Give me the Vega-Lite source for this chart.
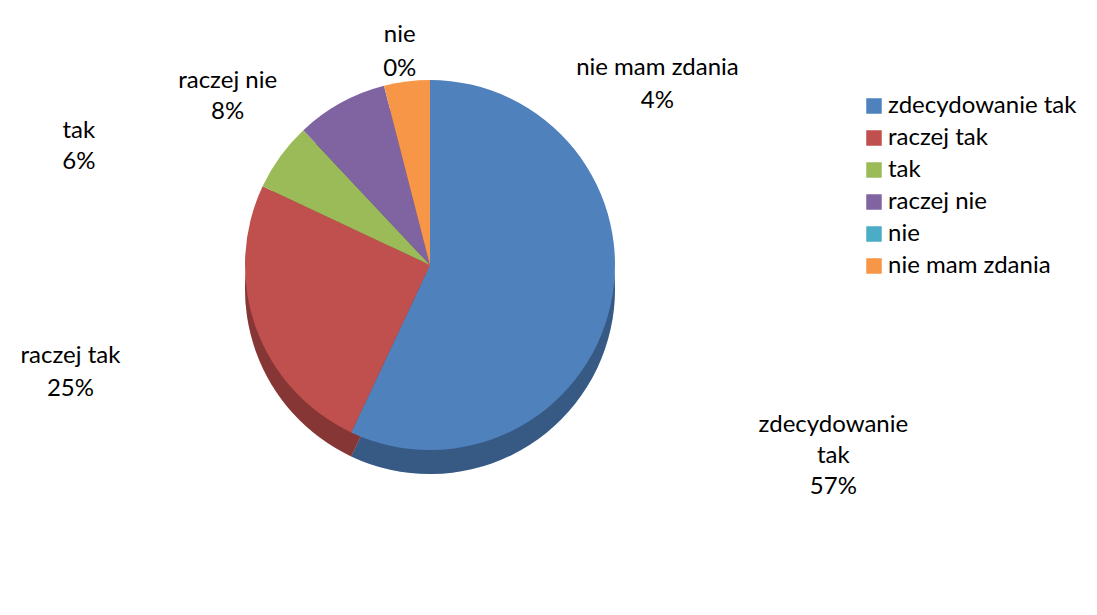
{
  "$schema": "https://vega.github.io/schema/vega-lite/v6.json",
  "width": 820,
  "height": 530,
  "autosize": {"type": "none"},
  "padding": {"left": 20, "top": 0, "right": 257, "bottom": 85},
  "background": "white",
  "config": {"view": {"stroke": null}, "font": "Lato"},
  "data": {
    "values": [
      {"idx": 1, "cat": "zdecydowanie tak", "v": 57, "label": "zdecydowanie\ntak\n57%"},
      {"idx": 2, "cat": "raczej tak", "v": 25, "label": "raczej tak\n25%"},
      {"idx": 3, "cat": "tak", "v": 6, "label": "tak\n6%"},
      {"idx": 4, "cat": "raczej nie", "v": 8, "label": "raczej nie\n8%"},
      {"idx": 5, "cat": "nie", "v": 0, "label": "nie\n0%"},
      {"idx": 6, "cat": "nie mam zdania", "v": 4, "label": "nie mam zdania\n4%"}
    ]
  },
  "encoding": {
    "theta": {"field": "v", "type": "quantitative", "stack": true},
    "order": {"field": "idx", "type": "quantitative"}
  },
  "layer": [
    {
      "mark": {"type": "arc", "outerRadius": 185, "yOffset": 24},
      "encoding": {
        "color": {"field": "cat", "type": "nominal",
          "scale": {"domain": ["zdecydowanie tak", "raczej tak", "tak", "raczej nie", "nie", "nie mam zdania"],
                    "range": ["#4f81bd", "#c0504d", "#9bbb59", "#8064a2", "#4bacc6", "#f79646"]},
          "legend": {"title": null, "orient": "none", "legendX": 842, "legendY": 94,
            "symbolType": "square", "symbolSize": 240, "symbolStrokeWidth": 0,
            "labelFont": "Lato", "labelFontSize": 24, "labelColor": "#000000", "labelLimit": 0,
            "labelOffset": 2, "rowPadding": 8, "padding": 0}}
      }
    },
    {
      "mark": {"type": "arc", "outerRadius": 185, "yOffset": 24, "color": "#000000", "opacity": 0.3},
      "encoding": {}
    },
    {
      "mark": {"type": "arc", "outerRadius": 185},
      "encoding": {
        "color": {"field": "cat", "type": "nominal"}
      }
    },
    {
      "mark": {"type": "text", "radius": 400, "dx": 13, "dy": 73, "fontSize": 24, "lineBreak": "\n", "lineHeight": 31, "align": "center", "baseline": "middle", "color": "#000000"},
      "encoding": {"text": {"condition": {"test": "datum.cat === 'zdecydowanie tak'", "field": "label"}, "value": ""}}
    },
    {
      "mark": {"type": "text", "radius": 380, "dx": -2, "dy": -38, "fontSize": 24, "lineBreak": "\n", "lineHeight": 33, "align": "center", "baseline": "middle", "color": "#000000"},
      "encoding": {"text": {"condition": {"test": "datum.cat === 'raczej tak'", "field": "label"}, "value": ""}}
    },
    {
      "mark": {"type": "text", "radius": 350, "dx": -68, "dy": 72, "fontSize": 24, "lineBreak": "\n", "lineHeight": 31, "align": "center", "baseline": "middle", "color": "#000000"},
      "encoding": {"text": {"condition": {"test": "datum.cat === 'tak'", "field": "label"}, "value": ""}}
    },
    {
      "mark": {"type": "text", "radius": 200, "dx": -106, "dy": -9, "fontSize": 24, "lineBreak": "\n", "lineHeight": 31, "align": "center", "baseline": "middle", "color": "#000000"},
      "encoding": {"text": {"condition": {"test": "datum.cat === 'raczej nie'", "field": "label"}, "value": ""}}
    },
    {
      "mark": {"type": "text", "radius": 210, "dx": 22, "dy": -27, "fontSize": 24, "lineBreak": "\n", "lineHeight": 34, "align": "center", "baseline": "middle", "color": "#000000"},
      "encoding": {"text": {"condition": {"test": "datum.cat === 'nie'", "field": "label"}, "value": ""}}
    },
    {
      "mark": {"type": "text", "radius": 180, "dx": 250, "dy": -18, "fontSize": 24, "lineBreak": "\n", "lineHeight": 33, "align": "center", "baseline": "middle", "color": "#000000"},
      "encoding": {"text": {"condition": {"test": "datum.cat === 'nie mam zdania'", "field": "label"}, "value": ""}}
    }
  ]
}
